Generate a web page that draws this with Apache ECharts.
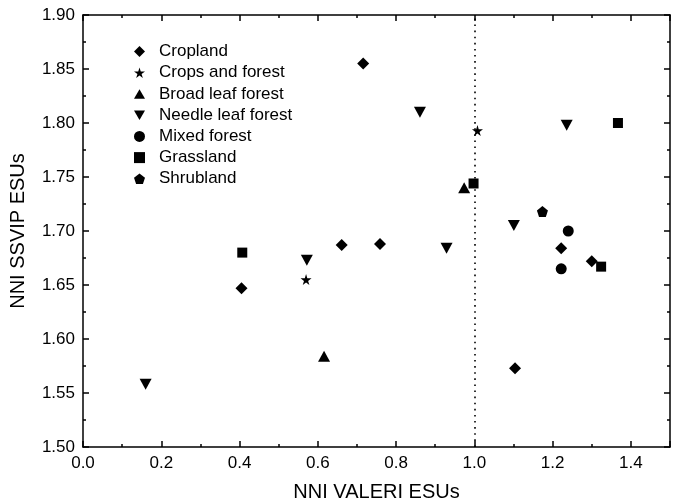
<!DOCTYPE html>
<html>
<head>
<meta charset="utf-8">
<script src="https://cdn.jsdelivr.net/npm/echarts@6/dist/echarts.min.js"></script>
<style>
html,body{margin:0;padding:0;background:#fff;}
#chart{width:678px;height:503px;}
</style>
</head>
<body>
<div id="chart"></div>
<script>
var seriesNames = ['Cropland', 'Crops and forest', 'Broad leaf forest', 'Needle leaf forest', 'Mixed forest', 'Grassland', 'Shrubland'];
var cropland = [[0.405, 1.647], [0.661, 1.687], [0.759, 1.688], [0.716, 1.855], [1.104, 1.573], [1.222, 1.684], [1.300, 1.672]];
var cropsForest = [[0.570, 1.655], [1.008, 1.793]];
var broadLeaf = [[0.616, 1.584], [0.974, 1.740]];
var needleLeaf = [[0.160, 1.558], [0.572, 1.673], [0.861, 1.810], [0.929, 1.684], [1.101, 1.705], [1.236, 1.798]];
var mixedForest = [[1.222, 1.665], [1.240, 1.700]];
var grassland = [[0.407, 1.680], [0.998, 1.744], [1.324, 1.667], [1.367, 1.800]];
var shrubland = [[1.174, 1.718]];
var xTickLabels = ['0.0', '0.2', '0.4', '0.6', '0.8', '1.0', '1.2', '1.4'];
var yTickLabels = ['1.50', '1.55', '1.60', '1.65', '1.70', '1.75', '1.80', '1.85', '1.90'];
var refLineX = 1.0;

var FONT = '"Liberation Sans", Arial, sans-serif';
var symbols = {
  'Cropland': 'path://M50,0 L100,50 L50,100 L0,50 Z',
  'Crops and forest': 'path://M50,0 L61,35 L98,35 L68,57 L79,91 L50,70 L21,91 L32,57 L2,35 L39,35 Z',
  'Broad leaf forest': 'path://M50,0 L100,87 L0,87 Z',
  'Needle leaf forest': 'path://M0,0 L100,0 L50,87 Z',
  'Mixed forest': 'circle',
  'Grassland': 'path://M0,0 L100,0 L100,100 L0,100 Z',
  'Shrubland': 'path://M50,0 L100,38 L81,95 L19,95 L0,38 Z'
};
var sizes = {
  'Cropland': 12, 'Crops and forest': 11, 'Broad leaf forest': [12, 11],
  'Needle leaf forest': [12, 11], 'Mixed forest': 11, 'Grassland': 10, 'Shrubland': 11
};
var dataSets = [cropland, cropsForest, broadLeaf, needleLeaf, mixedForest, grassland, shrubland];

var chart = echarts.init(document.getElementById('chart'), null, {renderer: 'canvas'});

function xAxisDef(pos, interval, showLabel, showLine, tickLen) {
  return {
    type: 'value', position: pos, min: 0, max: 1.5, interval: interval,
    axisLine: {show: showLine, onZero: false, lineStyle: {color: '#000', width: 1.5}},
    axisTick: {show: true, inside: true, length: tickLen, lineStyle: {color: '#000', width: 1.5}},
    axisLabel: {
      show: showLabel, margin: 8, color: '#000', fontSize: 17, fontFamily: FONT,
      formatter: function (v) { var s = v.toFixed(1); return xTickLabels.indexOf(s) >= 0 ? s : ''; }
    },
    splitLine: {show: false},
    name: showLabel ? 'NNI VALERI ESUs' : '',
    nameLocation: 'middle', nameGap: 35,
    nameTextStyle: {color: '#000', fontSize: 20, fontFamily: FONT}
  };
}
function yAxisDef(pos, showLabel) {
  return {
    type: 'value', position: pos, min: 1.5, max: 1.9, interval: 0.05,
    axisLine: {show: true, onZero: false, lineStyle: {color: '#000', width: 1.5}},
    axisTick: {show: true, inside: true, length: 6, lineStyle: {color: '#000', width: 1.5}},
    minorTick: {show: true, splitNumber: 2, length: 3, lineStyle: {color: '#000', width: 1.5}},
    axisLabel: {
      show: showLabel, margin: 8, color: '#000', fontSize: 17, fontFamily: FONT,
      formatter: function (v) { var s = v.toFixed(2); return yTickLabels.indexOf(s) >= 0 ? s : ''; }
    },
    splitLine: {show: false}, minorSplitLine: {show: false},
    name: showLabel ? 'NNI SSVIP ESUs' : '',
    nameLocation: 'middle', nameGap: 55,
    nameTextStyle: {color: '#000', fontSize: 20, fontFamily: FONT}
  };
}

var series = seriesNames.map(function (name, i) {
  var s = {
    name: name, type: 'scatter', xAxisIndex: 0, yAxisIndex: 0,
    symbol: symbols[name], symbolSize: sizes[name], symbolKeepAspect: false,
    itemStyle: {color: '#000', opacity: 1},
    data: dataSets[i], z: 5
  };
  if (i === 0) {
    s.markLine = {
      silent: true, symbol: 'none', animation: false,
      label: {show: false},
      lineStyle: {color: '#000', width: 1.6, type: [1.6, 4.5]},
      data: [{xAxis: refLineX}]
    };
  }
  return s;
});

chart.setOption({
  animation: false,
  backgroundColor: '#fff',
  textStyle: {fontFamily: FONT},
  grid: {left: 83, right: 8, top: 15, bottom: 56, containLabel: false, outerBoundsMode: 'none'},
  legend: {
    orient: 'vertical', left: 134, top: 41, padding: 0,
    itemWidth: 11, itemHeight: 11, itemGap: 0,
    textStyle: {color: '#000', fontSize: 17, fontFamily: FONT, lineHeight: 21.2, padding: [0, 0, 0, 9]},
    data: seriesNames.map(function (n) {
      return {name: n, icon: symbols[n], itemStyle: {color: '#000'}};
    }),
    selectedMode: false
  },
  xAxis: [
    xAxisDef('bottom', 0.2, true, true, 6),
    xAxisDef('bottom', 0.1, false, false, 3),
    xAxisDef('top', 0.2, false, true, 6),
    xAxisDef('top', 0.1, false, false, 3)
  ],
  yAxis: [
    yAxisDef('left', true),
    yAxisDef('right', false)
  ],
  series: series
});
</script>
</body>
</html>
